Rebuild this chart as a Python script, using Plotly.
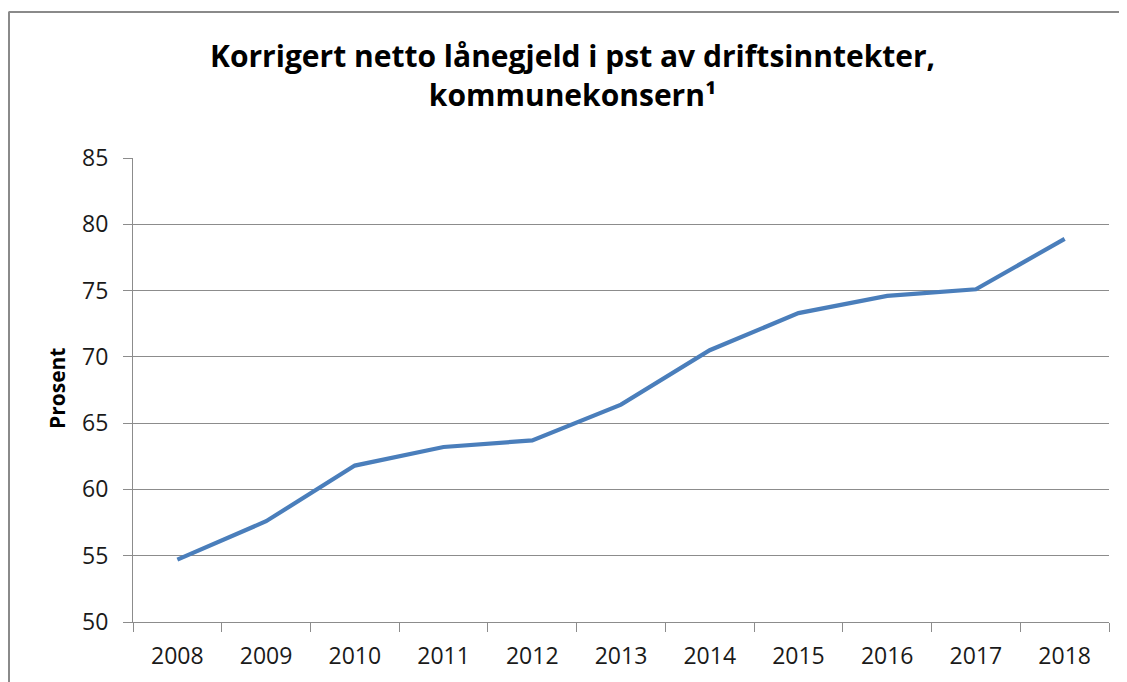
import plotly.graph_objects as go

years = ["2008", "2009", "2010", "2011", "2012", "2013", "2014", "2015", "2016", "2017", "2018"]
values = [54.7, 57.6, 61.8, 63.2, 63.7, 66.4, 70.5, 73.3, 74.6, 75.1, 78.9]
y_ticks = [50, 55, 60, 65, 70, 75, 80, 85]

title_text = "<b>Korrigert netto lånegjeld i pst av driftsinntekter,<br>kommunekonsern¹</b>"
y_title = "<b>Prosent</b>"

# page body has an 8px margin, so the figure is drawn 8px in from the top-left
OFF = 8
W, H = 1127 - OFF, 682 - OFF
L, T = 133 - OFF, 158 - OFF
R = W - (1109 - OFF)
B = H - (622 - OFF)
pw, ph = W - L - R, H - T - B


def px(xp):
    return (xp - OFF - L) / pw


def py(yp):
    return (H - B - (yp - OFF)) / ph


font_fam = "Open Sans, Lato, sans-serif"
grid_col = "#8c8c8c"
frame_col = "#8a8a8a"

fig = go.Figure()
fig.add_trace(go.Scatter(
    x=years, y=values, mode="lines",
    line=dict(color="#4a7ebb", width=4.2),
    showlegend=False, hoverinfo="x+y",
))

fig.update_layout(
    width=W, height=H,
    margin=dict(l=L, r=R, t=T, b=B, autoexpand=False),
    paper_bgcolor="white", plot_bgcolor="white",
    font=dict(family=font_fam, color="#1a1a1a"),
    xaxis=dict(
        type="category", categoryorder="array", categoryarray=years,
        tickson="boundaries", ticks="outside", ticklen=9, tickwidth=1,
        tickcolor=grid_col, showline=True, linecolor=grid_col, linewidth=1,
        showgrid=False, tickfont=dict(size=23, color="#1a1a1a"),
        ticklabelstandoff=13,
        range=[-0.5, len(years) - 0.5], fixedrange=True,
    ),
    yaxis=dict(
        range=[50, 85], tickvals=y_ticks, ticks="outside", ticklen=9,
        tickwidth=1, tickcolor=grid_col, showline=True, linecolor=grid_col,
        linewidth=1, showgrid=True, gridcolor=grid_col, gridwidth=1,
        zeroline=False, tickfont=dict(size=23, color="#1a1a1a"),
        ticklabelstandoff=10, fixedrange=True,
    ),
    annotations=[
        dict(
            text=title_text, showarrow=False, align="center",
            xref="paper", yref="paper",
            x=px(572), y=py(33), xanchor="center", yanchor="top",
            font=dict(family=font_fam, size=30, color="#000000"),
        ),
        dict(
            text=y_title, textangle=-90, showarrow=False,
            xref="paper", yref="paper",
            x=px(57), y=py(388),
            xanchor="center", yanchor="middle",
            font=dict(family=font_fam, size=21, color="#000000"),
        ),
    ],
    shapes=[
        dict(type="line", xref="paper", yref="paper", layer="below",
             x0=px(8.5), x1=px(1127), y0=py(12), y1=py(12),
             line=dict(color=frame_col, width=2)),
        dict(type="line", xref="paper", yref="paper", layer="below",
             x0=px(9), x1=px(9), y0=py(12), y1=py(682),
             line=dict(color=frame_col, width=2)),
    ],
)

fig.write_html("out.html")
